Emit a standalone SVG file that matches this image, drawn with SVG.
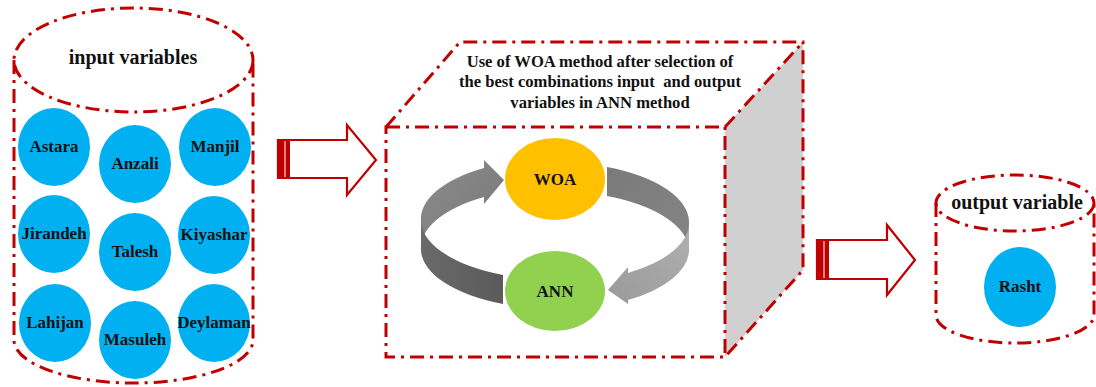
<svg xmlns="http://www.w3.org/2000/svg" width="1096" height="387" viewBox="0 0 1096 387">
<style>
.dd{fill:none;stroke:#c00000;stroke-width:3;stroke-dasharray:14 6 3 6;}
.st{fill:#00b0f0;}
.t{font-family:"Liberation Serif","Times New Roman",serif;font-weight:bold;fill:#111;text-anchor:middle;}
.s16{font-size:17px;}
.s18{font-size:20px;}
.ttl{font-size:16.6px;}
.arr{fill:#fff;stroke:#c00000;stroke-width:2.2;stroke-linejoin:miter;}
</style>
<defs>
<linearGradient id="gLB" x1="0" y1="0" x2="1" y2="1"><stop offset="0" stop-color="#8c8c8c"/><stop offset="1" stop-color="#777"/></linearGradient>
<linearGradient id="gLF" x1="0" y1="0" x2="1" y2="0"><stop offset="0" stop-color="#6a6a6a"/><stop offset="1" stop-color="#5a5a5a"/></linearGradient>
<linearGradient id="gRB" x1="0" y1="0" x2="1" y2="1"><stop offset="0" stop-color="#7a7a7a"/><stop offset="1" stop-color="#858585"/></linearGradient>
<linearGradient id="gRF" x1="1" y1="0" x2="0" y2="1"><stop offset="0" stop-color="#b0b0b0"/><stop offset="1" stop-color="#9a9a9a"/></linearGradient>
</defs>
<rect width="1096" height="387" fill="#fff"/>

<g id="input-cylinder">
<path class="dd" d="M14,60 L14,340 A119.5,43 0 0 0 253,340 L253,60"/>
<ellipse class="dd" cx="133.5" cy="60" rx="119.5" ry="52"/>
<text class="t s18" x="133" y="64">input variables</text>
</g>
<g id="Astara"><ellipse class="st" cx="54" cy="147" rx="36" ry="39"/><text class="t s16" x="54" y="152">Astara</text></g>
<g id="Anzali"><ellipse class="st" cx="135" cy="164" rx="36" ry="39"/><text class="t s16" x="135" y="169">Anzali</text></g>
<g id="Manjil"><ellipse class="st" cx="215" cy="147" rx="36" ry="39"/><text class="t s16" x="215" y="152">Manjil</text></g>
<g id="Jirandeh"><ellipse class="st" cx="54" cy="234" rx="36" ry="39"/><text class="t s16" x="54" y="239">Jirandeh</text></g>
<g id="Talesh"><ellipse class="st" cx="135" cy="252" rx="36" ry="39"/><text class="t s16" x="135" y="257">Talesh</text></g>
<g id="Kiyashar"><ellipse class="st" cx="214" cy="235" rx="36" ry="39"/><text class="t s16" x="214" y="240">Kiyashar</text></g>
<g id="Lahijan"><ellipse class="st" cx="55" cy="323" rx="36" ry="39"/><text class="t s16" x="55" y="328">Lahijan</text></g>
<g id="Masuleh"><ellipse class="st" cx="135" cy="340" rx="36" ry="39"/><text class="t s16" x="135" y="345">Masuleh</text></g>
<g id="Deylaman"><ellipse class="st" cx="214" cy="323" rx="36" ry="39"/><text class="t s16" x="214" y="328">Deylaman</text></g>

<g id="connectors">
<g id="arrow1">
<path class="arr" d="M278,140 L347,140 L347,125 L376,160 L347,195 L347,178 L278,178 Z"/>
<rect x="278" y="140" width="12" height="38" fill="#c00000"/>
<line x1="285" y1="141" x2="285" y2="177" stroke="#fff" stroke-width="1"/>
</g>
<g id="arrow2">
<path class="arr" d="M817,240 L887,240 L887,225 L915,260 L887,295 L887,279 L817,279 Z"/>
<rect x="817" y="240" width="12" height="39" fill="#c00000"/>
<line x1="824" y1="241" x2="824" y2="278" stroke="#fff" stroke-width="1"/>
</g>
</g>

<g id="process-box">
<polygon points="725,127 803,42 803,270 725,357" fill="#d0d0d0"/>
<path class="dd" d="M386,127 L725,127 L725,357 L386,357 Z"/>
<path class="dd" d="M386,127 L460,42 L803,42 L803,270 L725,357"/>
<path class="dd" d="M725,127 L803,42"/>
<text class="t ttl" x="600" y="67">Use of WOA method after selection of</text>
<text class="t ttl" x="600" y="87" xml:space="preserve">the best combinations input  and output</text>
<text class="t ttl" x="600" y="108">variables in ANN method</text>
</g>

<g id="cycle-arrows">
<path fill="url(#gLB)" d="M484,168 A134,60 0 0 0 421,222 L421,251 A134,60 0 0 1 484,197 L484,204 L504,180 L484,160 Z"/>
<path fill="url(#gLF)" d="M421,222 A134,60 0 0 0 503,275 L503,304 A134,60 0 0 1 421,251 Z"/>
<path fill="url(#gRB)" d="M607,167 A134,60 0 0 1 689,222 L689,251 A134,60 0 0 0 607,196 Z"/>
<path fill="url(#gRF)" d="M689,222 A134,60 0 0 1 628,273 L628,267 L608,290 L628,304 L628,300 A134,60 0 0 0 689,251 Z"/>
</g>

<g id="WOA"><ellipse cx="555" cy="179" rx="50" ry="41" fill="#ffc000"/><text class="t s16" x="555" y="185">WOA</text></g>
<g id="ANN"><ellipse cx="555" cy="291" rx="50" ry="40" fill="#92d050"/><text class="t s16" x="555" y="297">ANN</text></g>

<g id="output-cylinder">
<path class="dd" d="M936,203 L936,315 A79,28 0 0 0 1094,315 L1094,203"/>
<ellipse class="dd" cx="1015" cy="203" rx="79" ry="28"/>
<text class="t s18" x="1017" y="209">output variable</text>
</g>
<g id="Rasht"><ellipse class="st" cx="1020" cy="287" rx="36" ry="40"/><text class="t s16" x="1020" y="292">Rasht</text></g>
</svg>
